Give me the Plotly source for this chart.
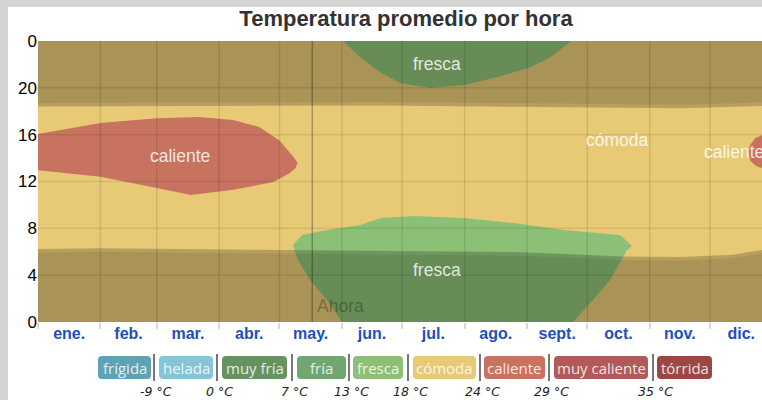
import plotly.graph_objects as go

# ── datos (día del año 0–365, hora 0–24) ─────────────────────────────────────
MESES = ['ene.', 'feb.', 'mar.', 'abr.', 'may.', 'jun.', 'jul.', 'ago.', 'sept.', 'oct.', 'nov.', 'dic.']
INICIO_MES = [0, 31, 59, 90, 120, 151, 181, 212, 243, 273, 304, 334, 365]
HORAS = [0, 4, 8, 12, 16, 20, 24]
HORAS_TXT = ['0', '4', '8', '12', '16', '20', '0']
HOY = 136.3

# zona "caliente" de enero–mayo
CAL_A_DIA = [-2, 31, 59, 80, 97, 110, 120, 127, 129, 128, 125, 117, 97, 76, 56, 31, -2]
CAL_A_HORA = [16.0, 17.0, 17.4, 17.5, 17.25, 16.65, 15.5, 14.1, 13.6, 13.15, 12.7, 11.95, 11.3, 10.85, 11.55, 12.4, 13.0]
# zona "caliente" de finales de diciembre
CAL_B_DIA = [367, 360, 356.4, 353.9, 352.9, 353.9, 356.9, 360, 367]
CAL_B_HORA = [16.0, 15.97, 15.71, 15.1, 14.5, 13.8, 13.3, 13.15, 13.0]

# zona "fresca" nocturna (parte alta)
FRE_N_DIA = [151.6, 160.0, 170.5, 180.4, 195.3, 211.7, 228.6, 245.0, 255.0, 264.9]
FRE_N_HORA = [24, 22.63, 21.26, 20.4, 19.98, 20.24, 20.92, 21.78, 22.63, 24]
# zona "fresca" de madrugada y mañana
FRE_M_DIA = [126.7, 131.2, 143.6, 160.0, 170.5, 186.9, 211.7, 236.6, 261.4, 289.3, 295.2,
             292.7, 290.8, 284.3, 275.8, 265.9, 265.9, 151.1, 151.1, 143.6, 135.2, 129.2]
FRE_M_HORA = [6.58, 7.43, 7.86, 8.28, 8.88, 9.05, 8.88, 8.45, 7.86, 7.43, 6.49,
              6.15, 5.55, 3.59, 1.88, 0.0, -1, -1, 0.0, 1.88, 3.59, 5.29]

# salida / puesta del sol (borde del crepúsculo)
AMANECER_DIA = [0, 31, 80, 127, 170, 236, 262, 290, 320, 345, 360]
AMANECER_HORA = [6.23, 6.3, 6.23, 6.15, 6.06, 5.98, 5.8, 5.6, 5.55, 5.75, 6.15]
ATARDECER_DIA = [0, 80, 170, 270, 320, 360]
ATARDECER_HORA = [18.4, 18.45, 18.5, 18.3, 18.25, 18.45]
CREPUSCULO = 0.3

# etiquetas de zona
ZONAS_TXT = ['caliente', 'fresca', 'cómoda', 'caliente', 'fresca']
ZONAS_DIA = [70.6, 198.3, 287.8, 345.9, 198.3]
ZONAS_HORA = [14.18, 22.03, 15.54, 14.52, 4.44]

# leyenda
CATEGORIAS = ['frígida', 'helada', 'muy fría', 'fría', 'fresca', 'cómoda', 'caliente', 'muy caliente', 'tórrida']
UMBRALES = ['-9', '0', '7', '13', '18', '24', '29', '35']

COLORES = ['#60a2b5', '#88c4d7', '#66935f', '#72a670', '#8dc077', '#e8ca76', '#c8735f', '#b25a59', '#9b4843']
C_COMODA = '#e8ca76'
C_CALIENTE = '#c8735f'
C_FRESCA = '#8dc077'

# geometría de la leyenda en px (layout)
CAJAS_PX = [(98, 151), (159, 213), (222, 287), (297, 346), (353, 403),
            (413, 476), (484, 545), (554, 648), (657, 712)]
SEPARADORES_PX = [154, 217, 292, 349, 408, 480, 549, 653]

W, H = 762, 400
ML, MR, MT, MB = 38, 0, 41, 78
PW, PH = W - ML - MR, H - MT - MB
X_MAX = 359.8
FUENTE = 'Arial, Liberation Sans'


def px_x(p):
    return (p - ML) / PW


def px_y(p):
    return (MT + PH - p) / PH


def caja_redonda(x0, y0, x1, y1, r=4):
    rx, ry = r / PW, r / PH
    a, b, c, d = px_x(x0), px_x(x1), px_y(y0), px_y(y1)  # c arriba, d abajo
    return (f'M {a + rx},{c} L {b - rx},{c} Q {b},{c} {b},{c - ry} '
            f'L {b},{d + ry} Q {b},{d} {b - rx},{d} L {a + rx},{d} '
            f'Q {a},{d} {a},{d + ry} L {a},{c - ry} Q {a},{c} {a + rx},{c} Z')


def relleno(x, y, color, nombre):
    return go.Scatter(x=x, y=y, fill='toself', fillcolor=color, mode='lines',
                      line=dict(width=0), hoverinfo='skip', showlegend=False, name=nombre)


fig = go.Figure()

fig.add_trace(relleno(CAL_A_DIA, CAL_A_HORA, C_CALIENTE, 'caliente'))
fig.add_trace(relleno(CAL_B_DIA, CAL_B_HORA, C_CALIENTE, 'caliente'))
fig.add_trace(relleno(FRE_N_DIA + [FRE_N_DIA[-1], FRE_N_DIA[0]], FRE_N_HORA + [25, 25], C_FRESCA, 'fresca'))
fig.add_trace(relleno(FRE_M_DIA, FRE_M_HORA, C_FRESCA, 'fresca'))

# sombreado de noche: crepúsculo + noche cerrada
x_am = [-2] + AMANECER_DIA + [367]
y_am = [AMANECER_HORA[0]] + AMANECER_HORA + [AMANECER_HORA[-1]]
x_at = [-2] + ATARDECER_DIA + [367]
y_at = [ATARDECER_HORA[0]] + ATARDECER_HORA + [ATARDECER_HORA[-1]]
for capa, desp, alfa in [('crepusculo', 0, 0.21), ('noche', CREPUSCULO, 0.07)]:
    fig.add_trace(relleno(x_am + [367, -2], [h - desp for h in y_am] + [-1, -1],
                          f'rgba(0,0,0,{alfa})', capa))
    fig.add_trace(relleno(x_at + [367, -2], [h + desp for h in y_at] + [25, 25],
                          f'rgba(0,0,0,{alfa})', capa))

# rejilla por encima del relleno
for d in INICIO_MES[1:12]:
    fig.add_shape(type='line', xref='x', yref='paper', x0=d, x1=d, y0=0, y1=1,
                  line=dict(color='rgba(0,0,0,0.11)', width=1.5), layer='above')
for h in HORAS[1:-1]:
    fig.add_shape(type='line', xref='paper', yref='y', x0=0, x1=1, y0=h, y1=h,
                  line=dict(color='rgba(0,0,0,0.09)', width=1.5), layer='above')
fig.add_shape(type='line', xref='x', yref='paper', x0=HOY, x1=HOY, y0=0, y1=1,
              line=dict(color='rgba(0,0,0,0.28)', width=1.5), layer='above')
fig.add_annotation(x=HOY, y=0.35, xref='x', yref='y', text='Ahora', showarrow=False,
                   xanchor='left', xshift=3, yanchor='bottom',
                   font=dict(family=FUENTE, size=17.5, color='rgba(0,0,0,0.3)'))

for txt, d, h in zip(ZONAS_TXT, ZONAS_DIA, ZONAS_HORA):
    fig.add_annotation(x=d, y=h, xref='x', yref='y', text=txt, showarrow=False,
                       xanchor='center', yanchor='middle',
                       font=dict(family=FUENTE, size=17.5, color='rgba(255,255,255,0.82)'))

# fondo gris de la página (franjas izquierda y superior)
fig.add_shape(type='rect', xref='paper', yref='paper', x0=px_x(0), x1=px_x(8), y0=px_y(H), y1=px_y(0),
              fillcolor='#d4d4d4', line=dict(width=0), layer='below')
fig.add_shape(type='rect', xref='paper', yref='paper', x0=px_x(0), x1=px_x(W), y0=px_y(7), y1=px_y(0),
              fillcolor='#d4d4d4', line=dict(width=0), layer='below')

# leyenda de categorías
for nombre, color, (x0, x1) in zip(CATEGORIAS, COLORES, CAJAS_PX):
    fig.add_shape(type='path', xref='paper', yref='paper', path=caja_redonda(x0, 356, x1, 379),
                  fillcolor=color, line=dict(width=0))
    fig.add_annotation(x=px_x((x0 + x1) / 2), y=px_y(367.5), xref='paper', yref='paper',
                       text=nombre, showarrow=False, xanchor='center', yanchor='middle',
                       font=dict(family='Open Sans', size=15, color='rgba(255,255,255,0.85)'))
for t, s in zip(UMBRALES, SEPARADORES_PX):
    fig.add_shape(type='line', xref='paper', yref='paper', x0=px_x(s), x1=px_x(s),
                  y0=px_y(354), y1=px_y(381), line=dict(color='#777', width=2))
    fig.add_annotation(x=px_x(s + 2), y=px_y(391), xref='paper', yref='paper',
                       text=f'{t} °C', showarrow=False, xanchor='center', yanchor='middle',
                       font=dict(family='DejaVu Sans', size=12.5, color='#222', style='italic'))

fig.update_layout(
    width=W, height=H,
    margin=dict(l=ML, r=MR, t=MT, b=MB),
    paper_bgcolor='white',
    plot_bgcolor=C_COMODA,
    showlegend=False,
    title=dict(text='<b>Temperatura promedio por hora</b>', x=406 / W, xanchor='center',
               y=1 - 18 / H, yanchor='middle',
               font=dict(family=FUENTE, size=22, color='#333')),
    xaxis=dict(range=[0, X_MAX], showgrid=False, zeroline=False,
               tickmode='array',
               tickvals=[(a + b) / 2 for a, b in zip(INICIO_MES[:-1], INICIO_MES[1:])],
               ticktext=MESES, ticks='',
               tickfont=dict(family=FUENTE, size=16, color='#1d4fbf', weight='bold'),
               minor=dict(tickmode='array', tickvals=INICIO_MES, ticks='outside', ticklen=6,
                          tickcolor='rgba(0,0,0,0.15)', tickwidth=1.5, showgrid=False)),
    yaxis=dict(range=[0, 24], showgrid=False, zeroline=False,
               tickmode='array', tickvals=HORAS, ticktext=HORAS_TXT, ticks='',
               tickfont=dict(family=FUENTE, size=17, color='#000')),
)

fig.write_html('out.html', config={'displayModeBar': False},
               post_script="document.body.style.margin='0';")
